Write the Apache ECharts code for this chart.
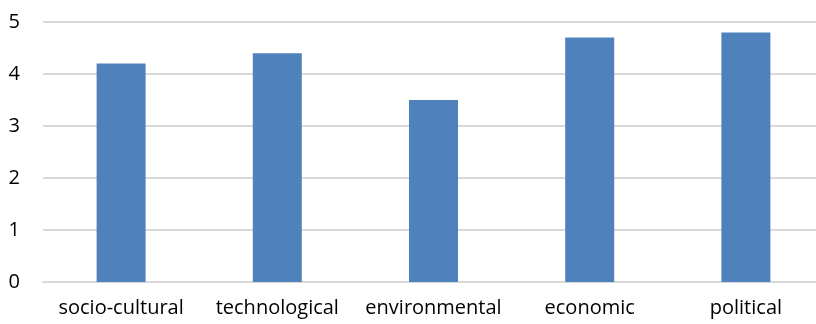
<!DOCTYPE html>
<html>
<head>
<meta charset="utf-8">
<script src="https://cdn.jsdelivr.net/npm/echarts@6/dist/echarts.min.js"></script>
<style>
  html, body { margin: 0; padding: 0; background: #fff; overflow: hidden; }
  #chart { width: 830px; height: 324px; }
</style>
</head>
<body>
<div id="chart"></div>
<script>
const categories = ['socio-cultural', 'technological', 'environmental', 'economic', 'political'];
const values = [4.2, 4.4, 3.5, 4.7, 4.8];

const FONT = '"Open Sans", "Liberation Sans", sans-serif';
const TEXT = '#000';

// the original plot area runs past the right edge of the picture,
// so the chart is a bit wider than the window and gets cropped
const myChart = echarts.init(document.getElementById('chart'));

myChart.setOption({
  backgroundColor: '#fff',
  animation: false,
  grid: {
    left: 43,
    top: 22,
    width: 781,
    height: 260
  },
  xAxis: {
    type: 'category',
    data: categories,
    axisTick: { show: false },
    axisLine: { lineStyle: { color: '#d9d9d9', width: 2 } },
    axisLabel: {
      interval: 0,
      color: TEXT,
      fontFamily: FONT,
      fontSize: 20,
      margin: 16
    }
  },
  yAxis: {
    type: 'value',
    min: 0,
    max: 5,
    interval: 1,
    axisLine: { show: false },
    axisTick: { show: false },
    splitLine: { lineStyle: { color: '#d9d9d9', width: 2 } },
    axisLabel: {
      color: TEXT,
      fontFamily: FONT,
      fontSize: 20,
      margin: 23
    }
  },
  series: [
    {
      type: 'bar',
      data: values,
      barWidth: 49,
      itemStyle: { color: '#4f81bd' }
    }
  ]
});
</script>
</body>
</html>
